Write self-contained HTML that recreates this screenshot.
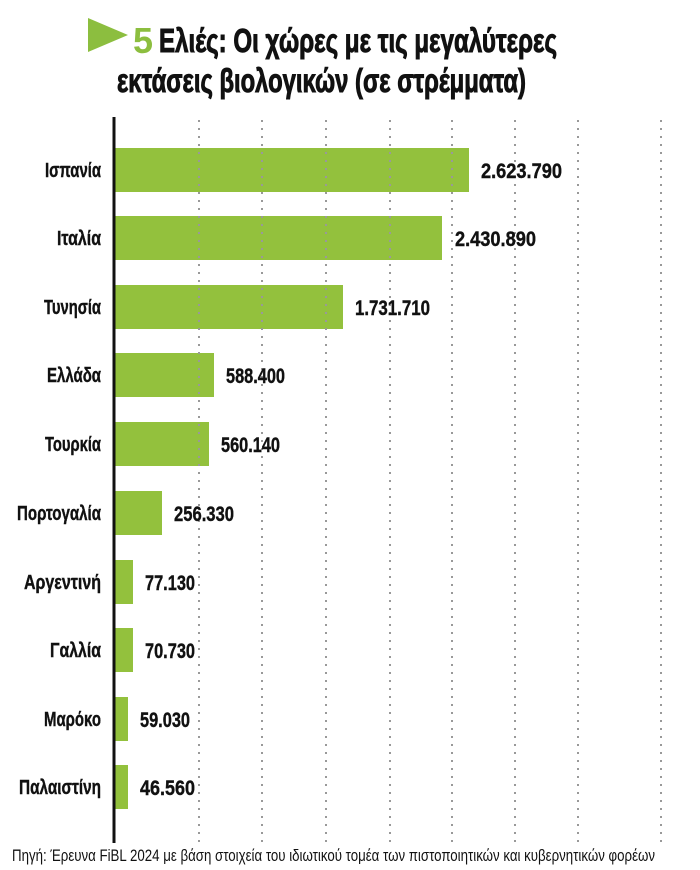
<!DOCTYPE html>
<html><head><meta charset="utf-8"><style>
html,body{margin:0;padding:0;background:#fff;}
svg{display:block;}
text{font-family:"Liberation Sans","DejaVu Sans",sans-serif;font-weight:bold;fill:#111;}
</style></head><body>
<svg width="700" height="870" viewBox="0 0 700 870" xmlns="http://www.w3.org/2000/svg">
<polygon points="88,18 128,35 88,52" fill="#8cbe3f"/>
<text x="133" y="53" font-size="36" style="fill:#8cbe3f" textLength="20" lengthAdjust="spacingAndGlyphs">5</text>
<g stroke="#111" stroke-width="1">
<text x="159" y="52" font-size="33" textLength="398" lengthAdjust="spacingAndGlyphs">Ελιές: Οι χώρες με τις μεγαλύτερες</text>
<text x="117" y="92" font-size="33" textLength="409" lengthAdjust="spacingAndGlyphs">εκτάσεις βιολογικών (σε στρέμματα)</text>
</g>
<g fill="#93c13d">
<rect x="115" y="148" width="354" height="44"/>
<rect x="115" y="216" width="327" height="44"/>
<rect x="115" y="285" width="228" height="44"/>
<rect x="115" y="353" width="99" height="44"/>
<rect x="115" y="422" width="94" height="44"/>
<rect x="115" y="491" width="47" height="44"/>
<rect x="115" y="560" width="18" height="44"/>
<rect x="115" y="628" width="18" height="44"/>
<rect x="115" y="697" width="13" height="44"/>
<rect x="115" y="765" width="13" height="44"/>
</g>
<g stroke="#999" stroke-width="2" stroke-dasharray="2,6">
<line x1="199" y1="120" x2="199" y2="845"/>
<line x1="262" y1="120" x2="262" y2="845"/>
<line x1="326" y1="120" x2="326" y2="845"/>
<line x1="390" y1="120" x2="390" y2="845"/>
<line x1="452" y1="120" x2="452" y2="845"/>
<line x1="515" y1="120" x2="515" y2="845"/>
<line x1="578" y1="120" x2="578" y2="845"/>
<line x1="661" y1="120" x2="661" y2="845"/>
</g>
<line x1="114" y1="117" x2="114" y2="843" stroke="#111" stroke-width="3"/>
<g font-size="20" text-anchor="end" stroke="#111" stroke-width="0.4">
<text x="101" y="177" textLength="56" lengthAdjust="spacingAndGlyphs">Ισπανία</text>
<text x="101" y="245" textLength="44" lengthAdjust="spacingAndGlyphs">Ιταλία</text>
<text x="101" y="314" textLength="57" lengthAdjust="spacingAndGlyphs">Τυνησία</text>
<text x="101" y="382" textLength="54" lengthAdjust="spacingAndGlyphs">Ελλάδα</text>
<text x="101" y="451" textLength="56" lengthAdjust="spacingAndGlyphs">Τουρκία</text>
<text x="101" y="520" textLength="84" lengthAdjust="spacingAndGlyphs">Πορτογαλία</text>
<text x="101" y="589" textLength="77" lengthAdjust="spacingAndGlyphs">Αργεντινή</text>
<text x="101" y="657" textLength="51" lengthAdjust="spacingAndGlyphs">Γαλλία</text>
<text x="101" y="726" textLength="57" lengthAdjust="spacingAndGlyphs">Μαρόκο</text>
<text x="101" y="794" textLength="82" lengthAdjust="spacingAndGlyphs">Παλαιστίνη</text>
</g>
<g font-size="21" stroke="#111" stroke-width="0.4">
<text x="481" y="178" textLength="81" lengthAdjust="spacingAndGlyphs">2.623.790</text>
<text x="455" y="246" textLength="81" lengthAdjust="spacingAndGlyphs">2.430.890</text>
<text x="355" y="315" textLength="75" lengthAdjust="spacingAndGlyphs">1.731.710</text>
<text x="226" y="383" textLength="59" lengthAdjust="spacingAndGlyphs">588.400</text>
<text x="221" y="452" textLength="59" lengthAdjust="spacingAndGlyphs">560.140</text>
<text x="174" y="521" textLength="60" lengthAdjust="spacingAndGlyphs">256.330</text>
<text x="145" y="590" textLength="50" lengthAdjust="spacingAndGlyphs">77.130</text>
<text x="145" y="658" textLength="50" lengthAdjust="spacingAndGlyphs">70.730</text>
<text x="140" y="727" textLength="50" lengthAdjust="spacingAndGlyphs">59.030</text>
<text x="140" y="795" textLength="55" lengthAdjust="spacingAndGlyphs">46.560</text>
</g>
<text x="12" y="861" font-size="17" style="font-weight:normal" textLength="643" lengthAdjust="spacingAndGlyphs">Πηγή: Έρευνα FiBL 2024 με βάση στοιχεία του ιδιωτικού τομέα των πιστοποιητικών και κυβερνητικών φορέων</text>
</svg>
</body></html>
